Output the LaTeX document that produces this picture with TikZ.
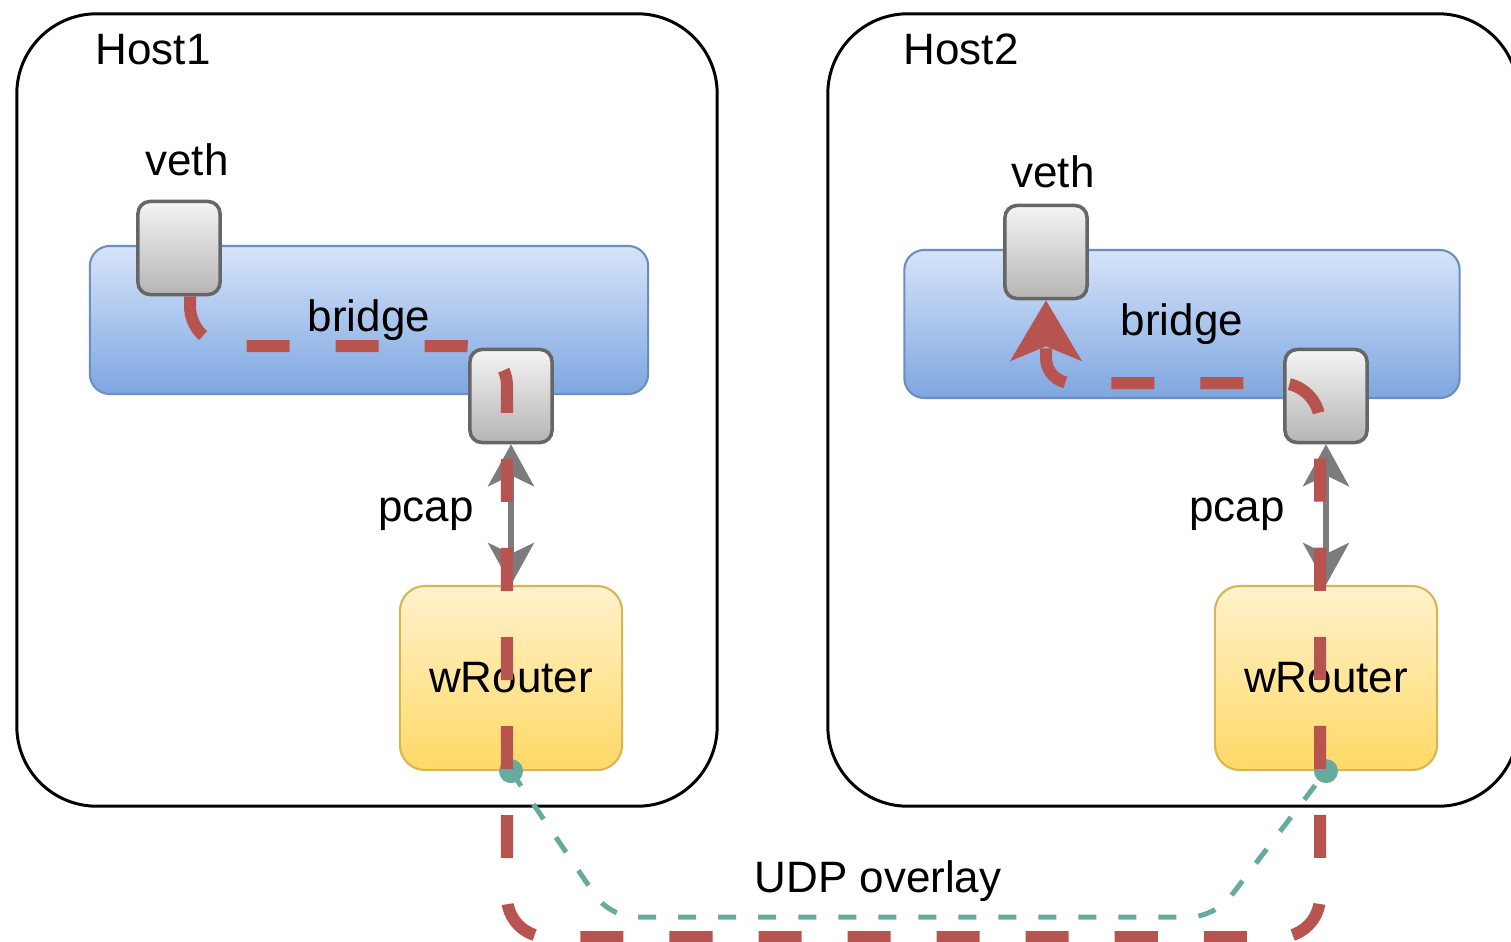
\documentclass[tikz,border=0pt]{standalone}
\usepackage{fontspec}
\setmainfont{Liberation Sans}
\usepackage{xcolor}
\usepackage{tikz}
\usetikzlibrary{arrows.meta}

\definecolor{flowred}{HTML}{B85450}
\definecolor{udpteal}{HTML}{67AB9F}
\definecolor{pcapgray}{HTML}{7C7C7C}
\definecolor{bridgetop}{HTML}{D6E4FA}
\definecolor{bridgebot}{HTML}{7EA6E0}
\definecolor{bridgeline}{HTML}{6C8EBF}
\definecolor{porttop}{HTML}{F4F4F4}
\definecolor{portbot}{HTML}{B5B5B5}
\definecolor{portline}{HTML}{666666}
\definecolor{routertop}{HTML}{FFF2CC}
\definecolor{routerbot}{HTML}{FFD966}
\definecolor{routerline}{HTML}{D6B656}

\tikzset{
  txt/.style={font=\fontsize{12.5}{15}\selectfont, inner sep=0pt},
  hostbox/.style={draw=black, line width=0.85pt, rounded corners=0.8cm, inner sep=0pt},
  bridgebox/.style={txt, draw=bridgeline, line width=0.6pt, rounded corners=0.2cm,
    top color=bridgetop, bottom color=bridgebot, minimum height=1.48cm},
  portbox/.style={draw=portline, line width=1pt, rounded corners=0.12cm, inner sep=0pt,
    top color=porttop, bottom color=portbot, minimum width=0.82cm, minimum height=0.93cm},
  routerbox/.style={txt, draw=routerline, line width=0.6pt, rounded corners=0.25cm,
    top color=routertop, bottom color=routerbot, minimum width=2.22cm, minimum height=1.84cm},
  pcaplink/.style={draw=pcapgray, line width=1.5pt,
    {Stealth[length=4.2mm,width=4.6mm,inset=1.1mm]}-{Stealth[length=4.2mm,width=4.6mm,inset=1.1mm]}},
  flow/.style={draw=flowred, line width=0.12cm, dash pattern=on 0.43cm off 0.46cm, rounded corners=0.4cm},
  udp/.style={draw=udpteal, line width=0.05cm, dash pattern=on 0.18cm off 0.22cm, rounded corners=0.25cm},
}

\begin{document}
\begin{tikzpicture}[x=0.01cm,y=-0.01cm]
  \useasboundingbox (0,0) rectangle (1511,942);

  % hosts
  \node[hostbox, minimum width=7cm, minimum height=7.92cm] (host1) at (367,410) {};
  \node[hostbox, minimum width=6.9cm, minimum height=7.92cm] (host2) at (1173,410) {};
  \node[txt, anchor=base west] (host1lbl) at (95,64) {Host1};
  \node[txt, anchor=base west] (host2lbl) at (903,64) {Host2};

  % bridges
  \node[bridgebox, minimum width=5.58cm] (bridge1) at (369,320) {bridge};
  \node[bridgebox, minimum width=5.55cm] (bridge2) at (1182,324) {bridge};

  % veth and pcap ports
  \node[portbox] (veth1) at (179,248) {};
  \node[portbox] (veth2) at (1046,252) {};
  \node[portbox] (port1) at (511,396) {};
  \node[portbox] (port2) at (1326,396) {};
  \node[txt] (veth1lbl) at (187,160) {veth};
  \node[txt] (veth2lbl) at (1053,172) {veth};

  % routers
  \node[routerbox] (router1) at (511,678) {wRouter};
  \node[routerbox] (router2) at (1326,678) {wRouter};

  \node[txt, anchor=base] (pcap1) at (426,521) {pcap};
  \node[txt, anchor=base] (pcap2) at (1237,521) {pcap};
  \draw[pcaplink] (port1.south) -- (router1.north);
  \draw[pcaplink] (port2.south) -- (router2.north);

  % UDP overlay
  \coordinate (u1) at (610,917);
  \coordinate (u2) at (1215,917);
  \draw[udp] (router1.south) -- (u1) -- (u2) -- (router2.south);
  \fill[udpteal] (router1.south) circle (0.12cm);
  \fill[udpteal] (router2.south) circle (0.12cm);
  \node[txt, anchor=base] (udplbl) at (878,892) {UDP overlay};

  % packet path
  \coordinate (p1) at (190,346);
  \coordinate (p2) at (507,346);
  \coordinate (p3) at (507,937);
  \coordinate (p4) at (1320,937);
  \coordinate (p5) at (1320,383);
  \coordinate (p6) at (1046,383);
  \draw[flow, -{Stealth[length=6mm,width=7mm,inset=1.4mm]}]
    ([xshift=0.11cm]veth1.south) -- (p1) -- (p2) -- (p3) -- (p4) -- (p5)
    [rounded corners=0.25cm] -- (p6) -- (veth2.south);
\end{tikzpicture}
\end{document}
